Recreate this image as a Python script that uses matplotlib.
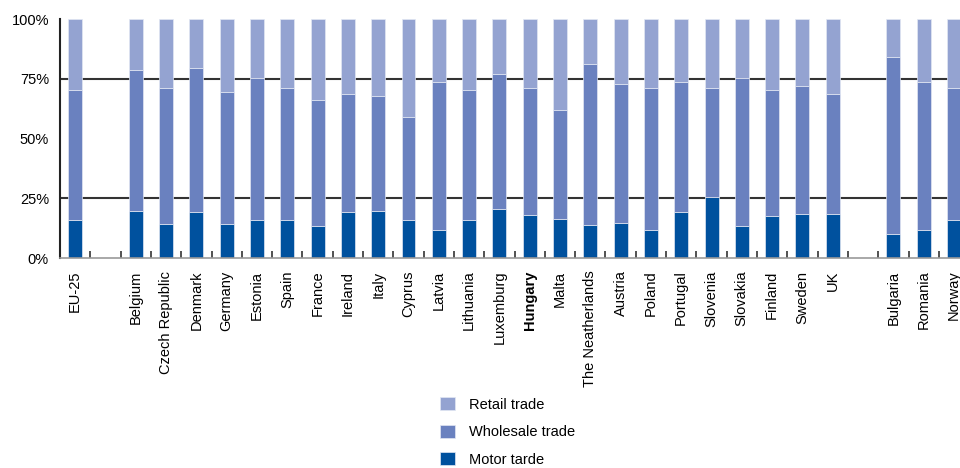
import matplotlib.pyplot as plt
import numpy as np

plt.rcParams['font.family'] = ['Liberation Sans', 'DejaVu Sans']

# '' marks an empty slot on the axis
countries = ['EU-25', '', 'Belgium', 'Czech Republic', 'Denmark', 'Germany', 'Estonia',
             'Spain', 'France', 'Ireland', 'Italy', 'Cyprus', 'Latvia', 'Lithuania',
             'Luxemburg', 'Hungary', 'Malta', 'The Neatherlands', 'Austria', 'Poland',
             'Portugal', 'Slovenia', 'Slovakia', 'Finland', 'Sweden', 'UK', '',
             'Bulgaria', 'Romania', 'Norway']

# shares in % (None = empty slot)
motor = [15.9, None, 19.8, 14.1, 19.1, 14.1, 15.9, 15.9, 13.3, 19.1, 19.8, 15.8, 11.6, 15.8,
         20.6, 18.1, 16.5, 13.9, 14.8, 11.6, 19.1, 25.5, 13.3, 17.4, 18.3, 18.3, None,
         9.9, 11.6, 15.8]
motor_plus_wholesale = [70.3, None, 78.5, 71.0, 79.4, 69.5, 75.2, 71.0, 66.3, 68.6, 67.8, 58.9,
                        73.6, 70.4, 76.9, 71.1, 62.1, 81.0, 72.7, 71.1, 73.6, 71.1, 75.2, 70.3,
                        72.0, 68.6, None, 84.2, 73.6, 71.1]

c_retail = '#94a3d1'
c_wholesale = '#6a81bf'
c_motor = '#00519e'


def main():
    fig = plt.figure(figsize=(9.6, 4.68), dpi=100)
    ax = fig.add_axes([0.0625, 0.4487, 0.947, 0.5107])

    x = np.arange(len(countries))
    keep = [i for i in x if motor[i] is not None]
    xs = x[keep]
    m = np.array([motor[i] for i in keep])
    mw = np.array([motor_plus_wholesale[i] for i in keep])
    w = mw - m
    r = 100 - mw

    bw = 0.46
    ec = dict(edgecolor='#e2e7f3', linewidth=0.5)
    ax.bar(xs, m, bw, color=c_motor, label='Motor tarde', **ec)
    ax.bar(xs, w, bw, bottom=m, color=c_wholesale, label='Wholesale trade', **ec)
    ax.bar(xs, r, bw, bottom=mw, color=c_retail, label='Retail trade', **ec)

    for yv in (25, 75):
        ax.axhline(yv, color='#333333', linewidth=1.5, zorder=0)

    ax.set_xlim(-0.5, len(countries) - 0.5)
    ax.set_ylim(0, 100)
    ax.set_yticks([0, 25, 50, 75, 100])
    ax.set_yticklabels(['0%', '25%', '50%', '75%', '100%'], fontsize=10.5)
    ax.tick_params(axis='y', length=0, pad=8)

    ax.set_xticks(x)
    ax.set_xticklabels(countries, rotation=90, fontsize=10.5, va='top')
    ax.tick_params(axis='x', length=0, pad=9)
    for lbl in ax.get_xticklabels():
        if lbl.get_text() == 'Hungary':
            lbl.set_fontweight('bold')
    ax.set_xticks(x[:-1] + 0.5, minor=True)
    ax.tick_params(axis='x', which='minor', direction='in', length=5, width=1.2, color='#333333')

    for s in ('top', 'right'):
        ax.spines[s].set_visible(False)
    ax.spines['left'].set_color('#222222')
    ax.spines['left'].set_linewidth(1.5)
    ax.spines['bottom'].set_color('#999999')
    ax.spines['bottom'].set_linewidth(1.2)

    handles, labels = ax.get_legend_handles_labels()
    fig.legend(handles[::-1], labels[::-1], loc='lower left', bbox_to_anchor=(0.445, -0.025),
               frameon=False, fontsize=10.5, handlelength=1.0, handleheight=1.0,
               labelspacing=0.88, handletextpad=1.0)

    fig.savefig('out.png', dpi=100)


if __name__ == '__main__':
    main()
